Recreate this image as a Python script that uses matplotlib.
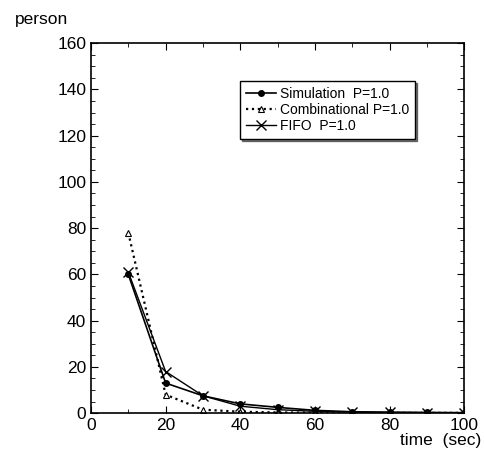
import matplotlib
matplotlib.use('Agg')
from matplotlib import pyplot as plt
from matplotlib.ticker import MultipleLocator

# %% data
t = [10, 20, 30, 40, 50, 60, 70, 80, 90, 100]
simulation = [60, 13, 7.5, 4, 2.5, 1.2, 0.6, 0.4, 0.3, 0.2]
combinational = [78, 8, 1.5, 0.6, 0.3, 0.2, 0.1, 0.1, 0.1, 0.1]
fifo = [61, 18, 7.5, 3, 1.5, 0.8, 0.5, 0.3, 0.2, 0.2]

labels = ['Simulation  P=1.0', 'Combinational P=1.0', 'FIFO  P=1.0']

# %% plot
plt.rcParams['font.family'] = ['Liberation Sans', 'DejaVu Sans']
fig = plt.figure(figsize=(4.84, 4.54), dpi=100)
ax = fig.add_axes([0.188, 0.090, 0.771, 0.815])

ax.plot(t, simulation, '-', color='black', lw=1.2, marker='o', ms=4, label=labels[0])
ax.plot(t, combinational, ':', color='black', lw=1.6, marker='^', ms=4,
        mfc='white', mew=0.8, label=labels[1])
ax.plot(t, fifo, '-', color='black', lw=1.0, marker='x', ms=7, mew=1.0, label=labels[2])

ax.set_xlim(0, 100)
ax.set_ylim(0, 160)
ax.xaxis.set_major_locator(MultipleLocator(20))
ax.xaxis.set_minor_locator(MultipleLocator(10))
ax.yaxis.set_major_locator(MultipleLocator(20))
ax.yaxis.set_minor_locator(MultipleLocator(5))
ax.tick_params(which='both', direction='in', top=True, right=True, labelsize=12.5)
ax.tick_params(which='major', length=5)
ax.tick_params(which='minor', length=3)
for sp in ax.spines.values():
    sp.set_linewidth(1.2)

fig.text(0.03, 0.958, 'person', fontsize=12.5, ha='left', va='center')
fig.text(0.995, 0.03, 'time  (sec)', fontsize=12.5, ha='right', va='center')

leg = ax.legend(loc='upper right', bbox_to_anchor=(0.869, 0.897), fontsize=10,
                frameon=True, fancybox=False, shadow={'ox': 1.5, 'oy': -1.5, 'color': 'black'},
                handlelength=2.2, handletextpad=0.3, borderpad=0.4, labelspacing=0.15,
                borderaxespad=0)
leg.get_frame().set_edgecolor('black')
leg.get_frame().set_linewidth(1.0)

fig.savefig('out.png', dpi=100)
